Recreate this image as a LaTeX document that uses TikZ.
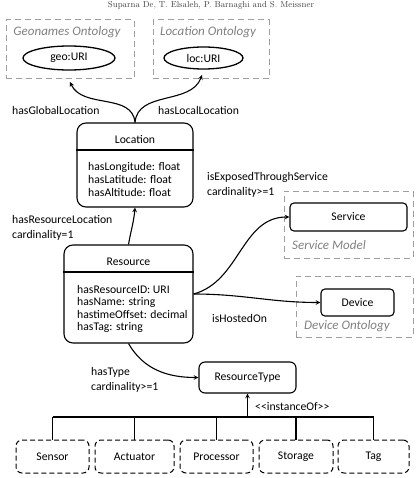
\documentclass[tikz,border=0pt]{standalone}
\usepackage{fontspec}
\newfontfamily\carfont{Carlito}
\usepackage{tikz}
\usetikzlibrary{arrows}
\usetikzlibrary{shapes.geometric}

\begin{document}
\begin{tikzpicture}[x=1pt,y=-1pt,
    font=\carfont\fontsize{11.7}{12.6}\selectfont,
    box/.style={draw,line width=1.1pt,rounded corners=9pt},
    small/.style={draw,line width=1.1pt,rounded corners=4pt},
    group/.style={draw=gray!75,line width=1pt,dash pattern=on 6pt off 4pt},
    inst/.style={draw,line width=1pt,dash pattern=on 5pt off 3pt,rounded corners=6pt,minimum height=33pt},
    onto/.style={draw,ellipse,line width=1.3pt,inner sep=0pt,minimum height=24pt},
    grp/.style={text=gray,font=\carfont\itshape\fontsize{13}{14}\selectfont},
    lbl/.style={anchor=west,inner sep=0pt,align=left,font=\carfont\fontsize{11.7}{14.8}\selectfont},
    attr/.style={anchor=west,inner sep=0pt,align=left},
    rel/.style={->,>=stealth,line width=1.1pt}]
    \useasboundingbox (0,0) rectangle (417,478);
    % Header
    \node[font=\fontsize{8.6}{9}\selectfont,text=black!75,inner sep=0pt,anchor=north] (hdr) at (211,1)
      {Suparna De, T. Elsaleh, P. Barnaghi and S. Meissner};
    % --- Ontologies on top ---
    \node[group,minimum width=128pt,minimum height=59pt] (geogrp) at (70,49.5) {};
    \node[grp] (geoname) at (67,32) {Geonames Ontology};
    \node[onto,minimum width=92pt] (geo) at (69,58) {geo:URI};
    \node[group,minimum width=116pt,minimum height=59pt] (locgrp) at (211,49.5) {};
    \node[grp] (locname) at (208,32) {Location Ontology};
    \node[onto,minimum width=79pt,minimum height=22pt] (locuri) at (203.5,58) {loc:URI};
    \coordinate (geoin) at (70,82);
    \coordinate (locin) at (202,75);
    % --- Location ---
    \node[box,minimum width=116pt,minimum height=84pt] (locbox) at (135,165) {};
    \node (loctitle) at (135,139) {Location};
    \draw[line width=1.1pt] (locbox.west |- 0,150) -- (locbox.east |- 0,150);
    \node[attr] (locattr) at (88,179.5) {hasLongitude: float\\hasLatitude: float\\hasAltitude: float};
    % --- Resource ---
    \node[box,minimum width=129pt,minimum height=98pt] (resbox) at (128.5,294) {};
    \node (restitle) at (128.5,262) {Resource};
    \draw[line width=1.1pt] (resbox.west |- 0,272) -- (resbox.east |- 0,272);
    \node[attr] (resattr) at (77,309) {hasResourceID: URI\\hasName: string\\hastimeOffset: decimal\\hasTag: string};
    % --- Service and Device ---
    \node[group,minimum width=129pt,minimum height=67pt] (srvgrp) at (348.5,224.5) {};
    \node[small,minimum width=117pt,minimum height=28pt] (service) at (348.5,217) {Service};
    \node[grp,anchor=west,inner sep=0pt] (srvname) at (292,245) {Service Model};
    \node[group,minimum width=117pt,minimum height=61pt] (devgrp) at (354.5,306.5) {};
    \node[small,minimum width=73pt,minimum height=27pt] (device) at (357.5,302.5) {Device};
    \node[grp,anchor=west,inner sep=0pt] (devname) at (304,326) {Device Ontology};
    % --- ResourceType and its instances ---
    \node[small,rounded corners=6pt,minimum width=97pt,minimum height=31pt] (rtype) at (247.5,377.5) {ResourceType};
    \coordinate (bus) at (247.5,417);
    \foreach \n/\t/\x/\w in {sensor/Sensor/52.5/73,actuator/Actuator/134.5/79,
        processor/Processor/216.5/73,storage/Storage/296/74,tag/Tag/373.5/71}
      \node[inst,minimum width=\w pt] (\n) at (\x,456.5) {\t};
    \draw[line width=1.1pt] (sensor.north |- bus) -- (tag.north |- bus);
    \foreach \n in {sensor,actuator,processor,storage,tag}
      \draw[line width=1.1pt] (\n.north) -- (\n.north |- bus);
    \draw[rel] (bus) -- (rtype.south);
    \node[lbl] (instof) at (255,407) {<{}<instanceOf>{}>};
    % --- Relations ---
    \draw[rel] (locbox.north) to[out=95,in=-65] (geoin);
    \draw[rel] (locbox.north) to[out=85,in=-110] (locin);
    \draw[rel] (resbox.north) to[out=80,in=-95] (locbox.south);
    \draw[rel] (resbox.east) to[out=15,in=180] (service.west);
    \draw[rel] (resbox.east) to[out=0,in=180] (device.west);
    \draw[rel] (resbox.south) to[out=-60,in=180] (rtype.west);
    % Labels
    \node[lbl] (lglobal) at (12,110) {hasGlobalLocation};
    \node[lbl] (llocal) at (158,110) {hasLocalLocation};
    \node[lbl] (lexposed) at (207,184.5) {isExposedThroughService\\cardinality>=1};
    \node[lbl] (lresloc) at (12,227.5) {hasResourceLocation\\cardinality=1};
    \node[lbl] (lhosted) at (212,318) {isHostedOn};
    \node[lbl] (ltype) at (91,380) {hasType\\cardinality>=1};
\end{tikzpicture}
\end{document}
